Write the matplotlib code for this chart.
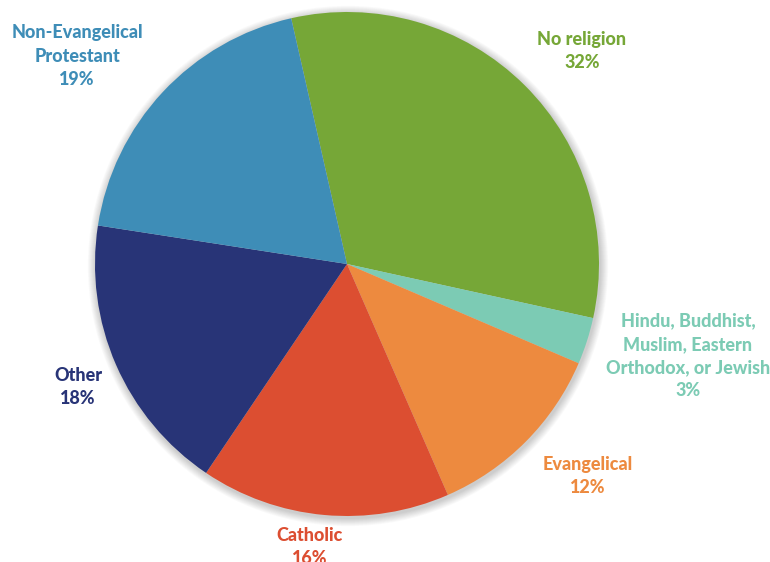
import matplotlib
matplotlib.use("Agg")
import matplotlib.pyplot as plt
from matplotlib.patches import Circle

# Religious affiliation shares (percent), drawn clockwise from the top
categories = [
    "No religion",
    "Hindu, Buddhist,\nMuslim, Eastern\nOrthodox, or Jewish",
    "Evangelical",
    "Catholic",
    "Other",
    "Non-Evangelical\nProtestant",
]
shares = [32, 3, 12, 16, 18, 19]
colors = ["#76A737", "#7CCBB4", "#ED8A3F", "#DC4E31", "#283477", "#3E8DB7"]

# Label anchor points in figure pixel coordinates (x, y from top)
label_pos = [(582, 51), (688, 356), (588, 476), (310, 547), (78, 387), (77, 56)]

W, H = 770, 562
fig = plt.figure(figsize=(W / 100, H / 100), dpi=100)
ax = fig.add_axes([0, 0, 1, 1])
ax.set_xlim(0, W)
ax.set_ylim(0, H)
ax.set_aspect("equal")
ax.axis("off")

cx, cy, r = 347, H - 264, 252

# soft glow around the pie
for i in range(10):
    ax.add_patch(Circle((cx + 1, cy - 2), r + 1 + i * 0.8, facecolor="black",
                        edgecolor="none", alpha=0.018, zorder=0))

ax.pie(shares, colors=colors, startangle=102.8, counterclock=False,
       center=(cx, cy), radius=r, frame=True,
       wedgeprops=dict(linewidth=0, edgecolor="none"))
ax.set_xlim(0, W)
ax.set_ylim(0, H)
ax.axis("off")

for name, val, col, (x, y) in zip(categories, shares, colors, label_pos):
    ax.text(x, H - y, f"{name}\n{val}%", ha="center", va="center",
            color=col, fontsize=13, fontweight="black", family="Lato",
            linespacing=1.45)

fig.savefig("out.png", dpi=100)
